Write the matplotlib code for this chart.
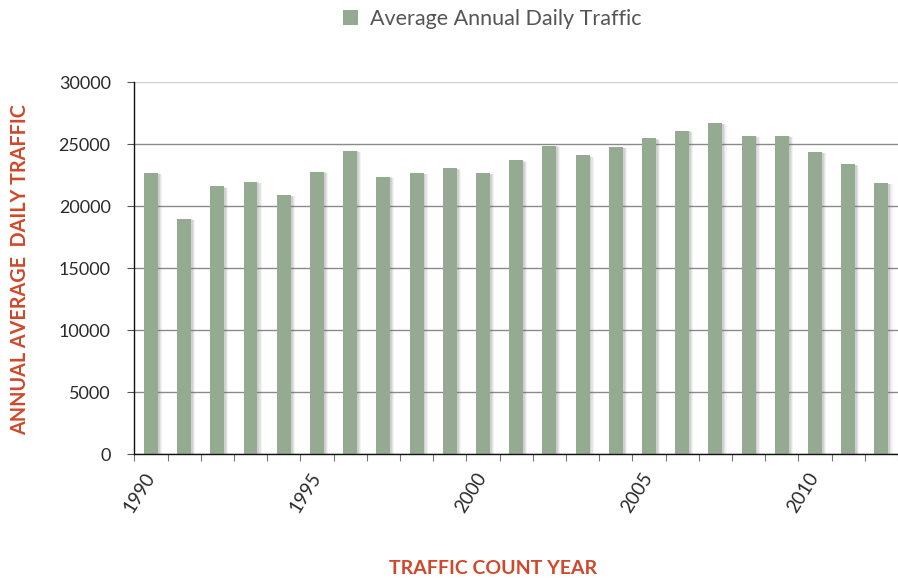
import matplotlib
matplotlib.use("Agg")
import matplotlib.pyplot as plt
import matplotlib.patheffects as pe
from matplotlib.patches import Patch
import numpy as np

years = list(range(1990, 2013))
aadt = [22700, 19000, 21600, 22000, 20900, 22800, 24500, 22400, 22700, 23100,
        22700, 23700, 24900, 24100, 24800, 25500, 26100, 26700, 25700, 25700,
        24400, 23400, 21900]
label_years = [1990, 1995, 2000, 2005, 2010]
yticks = [0, 5000, 10000, 15000, 20000, 25000, 30000]

W, H = 898, 579
fig = plt.figure(figsize=(W / 100, H / 100), dpi=100)
fig.patch.set_facecolor("white")

left_px, right_px = 134.3, 898.0
bottom_px, top_px = 454.3, 82.3
ax = fig.add_axes([left_px / W, 1 - bottom_px / H,
                   (right_px - left_px) / W, (bottom_px - top_px) / H])

font = "Lato"
bar_color = "#94ab91"
red = "#d1472a"

x = np.arange(len(years))
bars = ax.bar(x, aadt, width=0.42, color=bar_color, zorder=3)
shadow = [pe.SimplePatchShadow(offset=(o, -o * 0.4), shadow_rgbFace="#707070", alpha=a)
          for o, a in [(3.0, 0.08), (2.2, 0.12), (1.4, 0.16)]]
for b in bars:
    b.set_path_effects(shadow + [pe.Normal()])

ax.set_xlim(-0.5, len(years) - 1 + (898 - 892) / 33.67)
ax.set_ylim(0, 30000)

# y axis
ax.set_yticks(yticks)
ax.set_yticklabels([str(v) for v in yticks], fontfamily=font, fontsize=13, color="#2a2a2a")
ax.tick_params(axis="y", length=5, width=0.8, color="#555555", pad=12)
ax.yaxis.grid(True, color="#8a8a8a", linewidth=1.0, zorder=0)
ax.set_axisbelow(True)
gl = ax.get_ygridlines()
gl[-1].set_color("#cfcfcf")

# x axis: boundary ticks (major) and year labels (minor)
ax.set_xticks(np.arange(len(years) + 1) - 0.5)
ax.set_xticklabels([])
ax.tick_params(axis="x", which="major", length=5, width=0.8, color="#777777")
lab_pos = [years.index(y) for y in label_years]
ax.set_xticks(lab_pos, minor=True)
ax.set_xticklabels([str(y) for y in label_years], minor=True, rotation=58,
                   ha="right", va="center", rotation_mode="anchor",
                   fontfamily=font, fontsize=13.5, color="#2a2a2a")
ax.tick_params(axis="x", which="minor", length=0, pad=14)

for s in ["top", "right"]:
    ax.spines[s].set_visible(False)
ax.spines["left"].set_color("#111111")
ax.spines["left"].set_linewidth(1.0)
ax.spines["bottom"].set_color("#111111")
ax.spines["bottom"].set_linewidth(1.0)
ax.spines["bottom"].set_zorder(4)

# axis titles
fig.text(20 / W, 1 - 270 / H, "ANNUAL AVERAGE  DAILY TRAFFIC", rotation=90,
         ha="center", va="center", color=red, fontsize=14.2, fontweight="bold",
         family=font)
fig.text(493 / W, 1 - 569 / H, "TRAFFIC COUNT YEAR", ha="center", va="center",
         color=red, fontsize=14.0, fontweight="bold", family=font)

# legend
handle = Patch(facecolor=bar_color, edgecolor="none")
leg = fig.legend(handles=[handle], labels=["Average Annual Daily Traffic"],
                 loc="center", bbox_to_anchor=(492.5 / W, 1 - 19 / H),
                 frameon=False, handlelength=0.7, handleheight=0.7,
                 handletextpad=0.55, prop={"family": font, "size": 15.5})
for t in leg.get_texts():
    t.set_color("#555555")

fig.savefig("out.png", dpi=100)
